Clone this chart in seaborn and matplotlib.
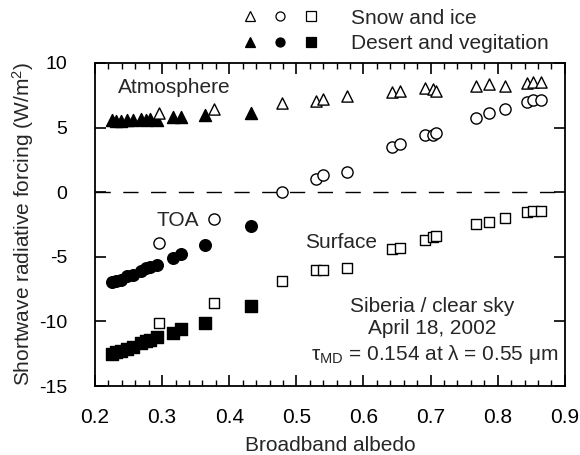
import matplotlib
matplotlib.use("Agg")
import matplotlib.pyplot as plt
import seaborn as sns
import pandas as pd
from matplotlib.lines import Line2D
from matplotlib.legend_handler import HandlerTuple
from matplotlib.ticker import MultipleLocator

# ---- data ----
desert_albedo = [0.226, 0.232, 0.238, 0.248, 0.256, 0.268, 0.276, 0.282, 0.292, 0.316, 0.328, 0.364, 0.432]
desert_atm = [5.55, 5.5, 5.5, 5.6, 5.55, 5.65, 5.6, 5.7, 5.6, 5.85, 5.85, 5.95, 6.1]
desert_toa = [-6.95, -6.9, -6.8, -6.5, -6.4, -6.1, -5.9, -5.8, -5.6, -5.1, -4.8, -4.1, -2.6]
desert_sfc = [-12.5, -12.4, -12.3, -12.1, -12.0, -11.7, -11.5, -11.4, -11.2, -10.9, -10.6, -10.1, -8.8]

snow_albedo = [0.295, 0.377, 0.478, 0.529, 0.540, 0.575, 0.642, 0.655, 0.692, 0.704, 0.708,
               0.768, 0.787, 0.811, 0.843, 0.853, 0.864]
snow_atm = [6.1, 6.45, 6.9, 7.05, 7.2, 7.45, 7.75, 7.8, 8.05, 7.95, 7.8, 8.25, 8.35, 8.25, 8.45, 8.5, 8.5]
snow_toa = [-3.95, -2.1, 0.05, 1.05, 1.35, 1.6, 3.5, 3.7, 4.4, 4.4, 4.6, 5.75, 6.1, 6.4, 6.95, 7.15, 7.15]
snow_sfc = [-10.1, -8.6, -6.9, -6.05, -6.0, -5.9, -4.4, -4.3, -3.7, -3.45, -3.4, -2.45, -2.3, -2.0, -1.5, -1.45, -1.45]

x_ticks = [0.2, 0.3, 0.4, 0.5, 0.6, 0.7, 0.8, 0.9]
y_ticks = [-15, -10, -5, 0, 5, 10]
legend_labels = ["Snow and ice", "Desert and vegitation"]

FS = 15

sns.set_theme(style="ticks")
plt.rcParams['font.family'] = ['Liberation Sans', 'DejaVu Sans']
plt.rcParams['mathtext.fontset'] = 'custom'
plt.rcParams['mathtext.rm'] = 'Liberation Sans'
plt.rcParams['mathtext.it'] = 'Liberation Sans:italic'

fig = plt.figure(figsize=(5.8, 4.55), dpi=100)
ax = fig.add_axes([0.1638, 0.1516, 0.81, 0.71])

ax.axhline(0, color='black', lw=1.0, ls=(0, (11, 9)), zorder=1)

series = [
    (desert_albedo, desert_atm, '^', 'black', 75),
    (desert_albedo, desert_toa, 'o', 'black', 70),
    (desert_albedo, desert_sfc, 's', 'black', 70),
    (snow_albedo, snow_atm, '^', 'white', 65),
    (snow_albedo, snow_toa, 'o', 'white', 65),
    (snow_albedo, snow_sfc, 's', 'white', 60),
]
for xs, ys, m, fc, s in series:
    df = pd.DataFrame({'x': xs, 'y': ys})
    sns.scatterplot(data=df, x='x', y='y', marker=m, s=s, color=fc,
                    edgecolor='black', linewidth=1.0, ax=ax, zorder=3, clip_on=False)

ax.set_xlim(0.2, 0.9)
ax.set_ylim(-15, 10)
ax.set_xticks(x_ticks)
ax.set_xticklabels([f"{v:.1f}" for v in x_ticks])
ax.set_yticks(y_ticks)
ax.set_yticklabels([str(v) for v in y_ticks])
ax.xaxis.set_minor_locator(MultipleLocator(0.02))
ax.tick_params(which='both', direction='in', top=True, right=True, labelsize=FS, colors='black')
ax.tick_params(axis='y', labelsize=14)
ax.tick_params(which='major', length=8, width=1.2)
ax.tick_params(which='minor', length=4, width=1.0)
ax.tick_params(axis='x', pad=16)
ax.tick_params(axis='y', pad=20)
for sp in ax.spines.values():
    sp.set_linewidth(1.3)
    sp.set_color('black')

ax.set_xlabel("Broadband albedo", fontsize=FS, labelpad=6)
ax.set_ylabel("Shortwave radiative forcing (W/m$^2$)", fontsize=FS, labelpad=2)

ax.text(0.234, 7.7, "Atmosphere", fontsize=FS, va='baseline', ha='left')
ax.text(0.292, -2.58, "TOA", fontsize=FS, va='baseline', ha='left')
ax.text(0.513, -4.32, "Surface", fontsize=FS, va='baseline', ha='left')
ax.text(0.703, -9.28, "Siberia / clear sky", fontsize=FS, va='baseline', ha='center')
ax.text(0.703, -11.0, "April 18, 2002", fontsize=FS, va='baseline', ha='center')
ax.text(0.706, -12.95, r"$\mathrm{τ}_{\mathrm{MD}}$ = 0.154 at λ = 0.55 μm", fontsize=FS,
        va='baseline', ha='center')

# legend (three markers per row)
def mk(m, fc):
    return Line2D([], [], marker=m, ls='none', markersize=6.5, markerfacecolor=fc,
                  markeredgecolor='black', markeredgewidth=0.9)

h_snow = (mk('^', 'white'), mk('o', 'white'), mk('s', 'white'))
h_des = (mk('^', 'black'), mk('o', 'black'), mk('s', 'black'))
leg = fig.legend([h_snow, h_des], legend_labels,
                 handler_map={tuple: HandlerTuple(ndivide=None, pad=1.05)},
                 loc='upper left', bbox_to_anchor=(0.392, 1.022), frameon=False,
                 fontsize=FS, handlelength=3.3, handletextpad=1.75, labelspacing=0.3)

fig.savefig("out.png", dpi=100)
